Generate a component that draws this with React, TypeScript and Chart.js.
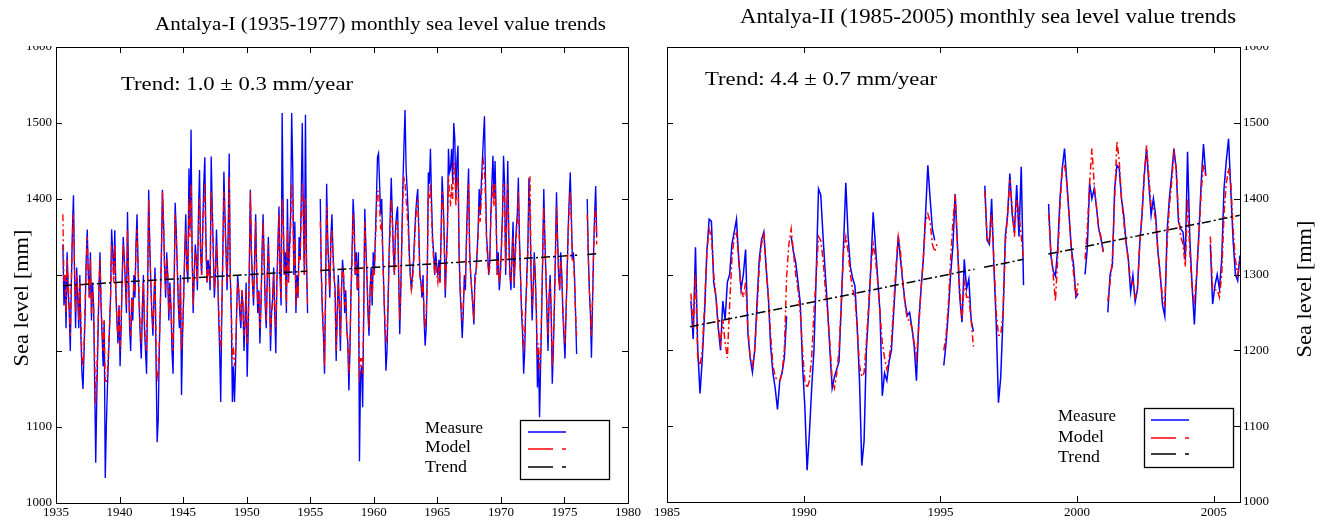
import React, { useEffect, useRef } from "react";
import { Chart, registerables } from "chart.js";

Chart.register(...registerables);

const _ = null;
const SERIF = '"Liberation Serif", "DejaVu Serif", "Times New Roman", serif';

// ---------------- Antalya-I (1935-1977): monthly values, first value = July 1935
const p1StartYear = 1935;
const p1StartMonth = 7;
const p1Measure: (number | null)[] = [
  1340, 1260, 1300, 1230, 1330, 1280,
  1250, 1200, 1290, 1360, 1405, 1300, 1230, 1310, 1270, 1230, 1300, 1220,
  1170, 1150, 1200, 1250, 1320, 1360, 1300, 1270, 1330, 1240, 1290, 1260,
  1160, 1053, 1140, 1210, 1280, 1330, 1260, 1220, 1180, 1240, 1033, 1100,
  1150, 1190, 1230, 1270, 1360, 1330, 1300, 1359, 1280, 1240, 1210, 1260,
  1180, 1230, 1300, 1350, 1320, 1290, 1250, 1383, 1300, 1230, 1200, 1270,
  1240, 1300, 1270, 1340, 1380, 1310, 1260, 1220, 1190, 1250, 1300, 1230,
  1200, 1170, 1280, 1412, 1340, 1290, 1250, 1220, 1270, 1310, 1180, 1080,
  1110, 1200, 1260, 1330, 1412, 1370, 1310, 1270, 1330, 1300, 1240, 1290,
  1260, 1200, 1170, 1280, 1395, 1360, 1310, 1260, 1230, 1300, 1142, 1220,
  1270, 1330, 1380, 1310, 1290, 1440, 1360, 1491, 1330, 1250, 1300, 1340,
  1320, 1280, 1380, 1438, 1330, 1300, 1360, 1420, 1455, 1350, 1290, 1320,
  1310, 1280, 1456, 1390, 1330, 1270, 1300, 1360, 1310, 1250, 1200, 1133,
  1250, 1330, 1436, 1380, 1330, 1280, 1350, 1460, 1300, 1250, 1133, 1180,
  1133, 1180, 1250, 1300, 1280, 1250, 1230, 1280, 1260, 1200, 1240, 1290,
  1166, 1230, 1310, 1412, 1330, 1290, 1260, 1320, 1380, 1300, 1250, 1280,
  1210, 1260, 1330, 1380, 1320, 1260, 1230, 1300, 1350, 1290, 1200, 1250,
  1270, 1310, 1250, 1197, 1290, 1340, 1390, 1300, 1260, 1513, 1380, 1300,
  1330, 1250, 1400, 1290, 1340, 1380, 1513, 1440, 1300, 1370, 1250, 1300,
  1270, 1350, 1320, 1400, 1500, 1380, 1300, 1511, 1320, 1250, _, _,
  _, _, _, _, _, _, _, _, _, 1400, 1300, 1250,
  1220, 1170, 1280, 1420, 1350, 1310, 1270, 1350, 1380, 1330, 1300, 1280,
  1187, 1250, 1300, 1260, 1200, 1280, 1320, 1300, 1250, 1280, 1230, 1210,
  1148, 1200, 1280, 1330, 1400, 1370, 1300, 1330, 1280, 1330, 1055, 1170,
  1180, 1126, 1250, 1387, 1340, 1300, 1250, 1220, 1280, 1310, 1260, 1330,
  1300, 1350, 1400, 1455, 1460, 1420, 1380, 1400, 1330, 1280, 1230, 1174,
  1200, 1260, 1330, 1380, 1428, 1380, 1330, 1300, 1360, 1380, 1390, 1300,
  1222, 1280, 1350, 1420, 1470, 1517, 1440, 1413, 1380, 1330, 1300, 1280,
  1300, 1320, 1350, 1380, 1400, 1413, 1360, 1300, 1290, 1270, 1300, 1240,
  1207, 1230, 1300, 1435, 1420, 1466, 1400, 1350, 1330, 1300, 1330, 1310,
  1300, 1320, 1290, 1350, 1430, 1400, 1350, 1270, 1320, 1360, 1466, 1435,
  1440, 1466, 1420, 1500, 1480, 1400, 1450, 1470, 1330, 1280, 1250, 1217,
  1250, 1300, 1280, 1350, 1400, 1440, 1330, 1300, 1280, 1260, 1235, 1300,
  1305, 1330, 1360, 1413, 1380, 1420, 1450, 1480, 1509, 1420, 1350, 1330,
  1300, 1320, 1380, 1420, 1457, 1400, 1450, 1380, 1300, 1330, 1280, 1300,
  1340, 1380, 1457, 1420, 1300, 1380, 1450, 1350, 1300, 1280, 1330, 1370,
  1283, 1330, 1360, 1380, 1428, 1350, 1300, 1250, 1222, 1170, 1200, 1260,
  1300, 1340, 1428, 1380, 1300, 1240, 1280, 1330, 1300, 1250, 1152, 1200,
  1113, 1180, 1250, 1330, 1413, 1350, 1300, 1250, 1200, 1270, 1300, 1250,
  1157, 1200, 1260, 1330, 1409, 1350, 1300, 1280, 1330, 1300, 1250, 1220,
  1190, 1250, 1300, 1360, 1400, 1435, 1380, 1320, 1330, 1300, 1250, 1196,
  _, _, _, _, _, _, _, _, _, 1400, 1330, 1280,
  1250, 1191, 1260, 1330, 1380, 1417, 1350,
];
const p1Model: (number | null)[] = [
  1380, 1290, 1300, 1250, 1320, 1290,
  1260, 1220, 1290, 1350, 1380, 1310, 1250, 1300, 1280, 1240, 1290, 1240,
  1190, 1180, 1210, 1260, 1310, 1350, 1300, 1270, 1320, 1250, 1280, 1260,
  1190, 1130, 1170, 1220, 1280, 1320, 1270, 1230, 1200, 1240, 1160, 1160,
  1170, 1200, 1230, 1270, 1340, 1320, 1290, 1340, 1280, 1240, 1220, 1260,
  1200, 1240, 1290, 1340, 1320, 1290, 1260, 1360, 1300, 1240, 1220, 1270,
  1250, 1290, 1280, 1330, 1360, 1310, 1270, 1230, 1210, 1260, 1290, 1240,
  1210, 1200, 1280, 1400, 1340, 1290, 1250, 1230, 1270, 1300, 1210, 1160,
  1170, 1210, 1260, 1320, 1410, 1370, 1310, 1280, 1320, 1300, 1250, 1280,
  1260, 1220, 1200, 1280, 1380, 1350, 1310, 1270, 1240, 1290, 1200, 1230,
  1270, 1320, 1360, 1310, 1300, 1400, 1350, 1420, 1330, 1260, 1300, 1330,
  1320, 1290, 1360, 1400, 1330, 1300, 1350, 1390, 1420, 1340, 1290, 1310,
  1300, 1290, 1410, 1380, 1330, 1280, 1300, 1340, 1310, 1260, 1220, 1200,
  1250, 1320, 1410, 1370, 1330, 1290, 1340, 1430, 1300, 1260, 1190, 1200,
  1180, 1200, 1250, 1290, 1280, 1260, 1240, 1280, 1260, 1220, 1240, 1280,
  1210, 1240, 1310, 1410, 1330, 1290, 1270, 1310, 1370, 1300, 1260, 1280,
  1230, 1260, 1320, 1370, 1320, 1270, 1240, 1300, 1340, 1290, 1220, 1250,
  1260, 1300, 1260, 1230, 1290, 1330, 1380, 1300, 1270, 1400, 1370, 1300,
  1310, 1260, 1360, 1290, 1330, 1360, 1420, 1400, 1310, 1350, 1260, 1290,
  1270, 1330, 1320, 1380, 1420, 1370, 1300, 1400, 1310, 1260, _, _,
  _, _, _, _, _, _, _, _, _, 1370, 1300, 1260,
  1230, 1180, 1270, 1390, 1340, 1310, 1280, 1340, 1360, 1320, 1300, 1270,
  1200, 1250, 1290, 1260, 1220, 1280, 1310, 1300, 1260, 1270, 1230, 1210,
  1170, 1210, 1270, 1320, 1380, 1350, 1300, 1320, 1280, 1310, 1160, 1190,
  1190, 1170, 1250, 1370, 1330, 1300, 1260, 1230, 1280, 1300, 1270, 1310,
  1300, 1340, 1380, 1410, 1410, 1390, 1360, 1370, 1320, 1280, 1240, 1210,
  1220, 1270, 1320, 1360, 1400, 1370, 1330, 1300, 1350, 1370, 1370, 1300,
  1240, 1280, 1340, 1400, 1430, 1420, 1400, 1380, 1360, 1320, 1300, 1280,
  1290, 1310, 1340, 1370, 1390, 1400, 1350, 1300, 1290, 1280, 1290, 1250,
  1230, 1250, 1300, 1410, 1400, 1420, 1380, 1340, 1320, 1300, 1320, 1300,
  1290, 1310, 1290, 1340, 1410, 1390, 1340, 1280, 1310, 1350, 1430, 1410,
  1390, 1420, 1400, 1450, 1440, 1390, 1420, 1430, 1330, 1290, 1260, 1240,
  1260, 1290, 1290, 1340, 1380, 1420, 1330, 1300, 1280, 1260, 1240, 1290,
  1300, 1320, 1350, 1390, 1370, 1400, 1430, 1450, 1440, 1400, 1340, 1320,
  1300, 1310, 1370, 1400, 1420, 1390, 1420, 1370, 1300, 1320, 1290, 1300,
  1330, 1370, 1420, 1400, 1310, 1370, 1420, 1340, 1300, 1290, 1320, 1350,
  1290, 1320, 1350, 1370, 1410, 1340, 1300, 1260, 1240, 1200, 1220, 1260,
  1290, 1330, 1400, 1430, 1310, 1260, 1280, 1320, 1290, 1250, 1190, 1210,
  1170, 1200, 1260, 1320, 1390, 1340, 1300, 1260, 1220, 1270, 1290, 1250,
  1180, 1210, 1260, 1320, 1390, 1340, 1300, 1280, 1320, 1300, 1260, 1230,
  1210, 1250, 1300, 1350, 1390, 1410, 1370, 1320, 1320, 1290, 1250, 1220,
  _, _, _, _, _, _, _, _, _, 1380, 1320, 1280,
  1260, 1220, 1270, 1330, 1370, 1390, 1340,
];
// trend line: [year, value] ends of each continuous piece (null = break)
const p1Trend: [number, number | null][] = [
  [1935.55, 1286], [1954.75, 1305], [1955.3, null],
  [1955.8, 1306], [1976.0, 1326], [1976.4, null],
  [1976.8, 1327], [1977.55, 1328],
];
const p1XTicks = [1935, 1940, 1945, 1950, 1955, 1960, 1965, 1970, 1975, 1980];
const p1XTickLabels = ["1935", "1940", "1945", "1950", "1955", "1960", "1965", "1970", "1975", "1980"];
const p1YTicks = [1000, 1100, 1200, 1300, 1400, 1500, 1600];
const p1YTickLabels = ["1000", "1100", "", "", "1400", "1500", "1600"];

// ---------------- Antalya-II (1985-2005): monthly values, first value = November 1985
const p2StartYear = 1985;
const p2StartMonth = 11;
const p2Measure: (number | null)[] = [
  1265, 1215,
  1336, 1200, 1143, 1190, 1250, 1330, 1373, 1370, 1290, 1270, 1230, 1200,
  1265, 1240, 1290, 1300, 1340, 1356, 1373, 1320, 1280, 1300, 1333, 1223,
  1190, 1171, 1200, 1262, 1320, 1346, 1356, 1310, 1270, 1205, 1170, 1150,
  1122, 1160, 1170, 1190, 1245, _, 1350, 1330, 1316, 1290, 1262, 1180,
  1126, 1042, 1090, 1150, 1200, 1300, 1413, 1405, 1350, 1300, 1255, 1200,
  1150, 1165, 1175, 1185, 1260, 1340, 1421, 1350, 1310, 1295, 1285, 1230,
  1160, 1048, 1080, 1200, 1250, 1311, 1382, 1338, 1294, 1250, 1140, 1170,
  1160, 1185, 1200, 1250, 1300, 1351, 1320, 1290, 1263, 1246, 1250, 1230,
  1206, 1160, 1237, 1280, 1320, 1380, 1444, 1400, 1360, 1345, _, _,
  _, 1180, 1210, 1250, 1300, 1338, 1406, 1338, 1270, 1237, 1320, 1281,
  1294, 1240, 1225, _, _, _, _, 1417, 1345, 1340, 1400, 1310,
  1237, 1131, 1165, 1245, 1350, 1378, 1433, 1380, 1356, 1418, 1350, 1442,
  1286, _, _, _, _, _, _, _, _, _, _, 1393,
  1325, 1305, 1298, 1334, 1400, 1440, 1466, 1422, 1378, 1334, 1312, 1270,
  1275, _, _, 1300, 1335, 1420, 1400, 1413, 1390, 1360, 1347, 1330,
  _, 1250, 1300, 1312, 1413, 1444, 1440, 1400, 1378, 1343, 1320, 1277,
  1299, 1264, 1280, 1340, 1378, 1431, 1466, 1420, 1378, 1400, 1378, 1330,
  1300, 1260, 1245, 1356, 1400, 1430, 1466, 1440, 1370, 1360, 1356, 1320,
  1462, 1347, 1285, 1234, 1300, 1356, 1422, 1472, 1430, _, 1340, 1261,
  1285, 1300, 1281, 1320, 1413, 1450, 1479, 1410, 1345, 1300, 1292, 1325,
];
const p2Model: (number | null)[] = [
  1275, 1230,
  1300, 1190, 1180, 1200, 1260, 1330, 1360, 1350, 1300, 1270, 1230, 1210,
  1240, 1210, 1190, 1260, 1320, 1350, 1355, 1320, 1280, 1270, 1290, 1230,
  1190, 1180, 1200, 1250, 1310, 1340, 1355, 1310, 1270, 1220, 1180, 1165,
  1160, 1160, 1170, 1200, 1297, 1340, 1360, 1330, 1300, 1280, 1250, 1200,
  1160, 1150, 1160, 1190, 1250, 1300, 1350, 1345, 1320, 1280, 1250, 1210,
  1160, 1150, 1170, 1200, 1260, 1330, 1350, 1330, 1300, 1280, 1270, 1230,
  1180, 1165, 1170, 1210, 1260, 1310, 1340, 1320, 1290, 1250, 1210, 1190,
  1175, 1190, 1210, 1260, 1310, 1350, 1330, 1290, 1260, 1240, 1240, 1230,
  1210, 1190, 1230, 1280, 1320, 1370, 1380, 1370, 1340, 1330, 1340, _,
  _, 1200, 1220, 1260, 1320, 1370, 1405, 1340, 1280, 1240, 1290, 1270,
  1270, 1240, 1205, _, _, _, _, 1410, 1350, 1340, 1380, 1320,
  1250, 1220, 1220, 1250, 1340, 1380, 1425, 1390, 1350, 1400, 1380, 1350,
  1320, _, _, _, _, _, _, _, _, _, _, 1380,
  1330, 1300, 1265, 1320, 1390, 1440, 1445, 1420, 1380, 1330, 1300, 1270,
  1290, _, _, 1320, 1360, 1420, 1466, 1420, 1390, 1360, 1350, 1330,
  _, 1265, 1290, 1320, 1400, 1475, 1450, 1400, 1370, 1340, 1320, 1290,
  1290, 1270, 1280, 1340, 1380, 1430, 1470, 1430, 1390, 1390, 1370, 1330,
  1300, 1270, 1260, 1340, 1390, 1420, 1460, 1440, 1380, 1350, 1340, 1310,
  1400, 1330, 1280, 1265, 1300, 1350, 1410, 1445, 1430, _, 1350, 1280,
  1280, 1280, 1270, 1300, 1380, 1420, 1440, 1420, 1360, 1320, 1300, 1320,
];
const p2Trend: [number, number | null][] = [
  [1985.84, 1231], [1996.25, 1307], [1996.4, null],
  [1996.6, 1309.5], [1998.04, 1320], [1998.5, null],
  [1998.95, 1327], [2000.0, 1334.5], [2000.15, null],
  [2000.3, 1337], [2005.95, 1378],
];
const p2XTicks = [1985, 1990, 1995, 2000, 2005];
const p2XTickLabels = ["1985", "1990", "1995", "2000", "2005"];
const p2YTicks = [1000, 1100, 1200, 1300, 1400, 1500, 1600];
const p2YTickLabels = ["1000", "1100", "1200", "1300", "1400", "1500", "1600"];

// ---------------- helpers
function monthly(vals: (number | null)[], y0: number, m0: number) {
  return vals.map((v, i) => ({ x: y0 + (m0 - 1 + i + 0.5) / 12, y: v }));
}
function pairs(p: [number, number | null][]) {
  return p.map(([x, y]) => ({ x, y }));
}

function fitText(ctx: CanvasRenderingContext2D, text: string, x: number, y: number, size: number, width: number) {
  ctx.save();
  ctx.font = `${size}px ${SERIF}`;
  ctx.textBaseline = "middle";
  ctx.textAlign = "left";
  const w = ctx.measureText(text).width;
  ctx.translate(x, y);
  ctx.scale(width / w, 1);
  ctx.fillText(text, 0, 0);
  ctx.restore();
}
function fitTextRot(ctx: CanvasRenderingContext2D, text: string, cx: number, cy: number, size: number, width: number) {
  ctx.save();
  ctx.font = `${size}px ${SERIF}`;
  ctx.textBaseline = "middle";
  ctx.textAlign = "center";
  const w = ctx.measureText(text).width;
  ctx.translate(cx, cy);
  ctx.rotate(-Math.PI / 2);
  ctx.scale(width / w, 1);
  ctx.fillText(text, 0, 0);
  ctx.restore();
}

type Deco = {
  off: number;
  xTicks: number[]; xLabels: string[];
  yTicks: number[]; yLabels: string[];
  side: "left" | "right";
  yLabelX: number;
  title: string; titleX: number; titleY: number; titleSize: number; titleW: number;
  trendText: string; trendX: number; trendY: number;
  legX: number; legY: number[];
  box: [number, number, number, number];
  lineX: number; lineY: number[];
  yTitleX: number; yTitleY: number;
};

function decoPlugin(d: Deco) {
  return {
    id: "deco",
    afterDraw(chart: any) {
      const ctx: CanvasRenderingContext2D = chart.ctx;
      const ca = chart.chartArea;
      const xs = chart.scales.x;
      const ys = chart.scales.y;
      const o = d.off;
      ctx.save();
      ctx.strokeStyle = "#000";
      ctx.fillStyle = "#000";
      ctx.lineWidth = 1;
      ctx.strokeRect(Math.round(ca.left) + 0.5, Math.round(ca.top) + 0.5, Math.round(ca.right - ca.left), Math.round(ca.bottom - ca.top));
      const T = 6;
      ctx.beginPath();
      d.yTicks.forEach((v) => {
        const py = Math.round(ys.getPixelForValue(v)) + 0.5;
        ctx.moveTo(ca.left, py); ctx.lineTo(ca.left + T, py);
        ctx.moveTo(ca.right, py); ctx.lineTo(ca.right - T, py);
      });
      d.xTicks.forEach((v) => {
        const px = Math.round(xs.getPixelForValue(v)) + 0.5;
        ctx.moveTo(px, ca.bottom); ctx.lineTo(px, ca.bottom - T);
        ctx.moveTo(px, ca.top); ctx.lineTo(px, ca.top + T);
      });
      ctx.stroke();

      ctx.textBaseline = "middle";
      d.xTicks.forEach((v, i) => {
        const px = xs.getPixelForValue(v);
        fitText(ctx, d.xLabels[i], px - 13, 513, 13, 26);
      });
      ctx.save();
      ctx.beginPath();
      ctx.rect(0, 46, chart.width, chart.height);
      ctx.clip();
      d.yTicks.forEach((v, i) => {
        if (!d.yLabels[i]) return;
        const py = ys.getPixelForValue(v);
        const lx = d.side === "left" ? d.yLabelX - o - 26 : d.yLabelX - o;
        fitText(ctx, d.yLabels[i], lx, py, 13, 26);
      });
      ctx.restore();

      fitText(ctx, d.title, d.titleX - o, d.titleY, d.titleSize, d.titleW);
      fitText(ctx, d.trendText, d.trendX - o, d.trendY, 18, 232);
      fitTextRot(ctx, "Sea level [mm]", d.yTitleX - o, d.yTitleY, 21, 137);

      fitText(ctx, "Measure", d.legX - o, d.legY[0], 16, 58);
      fitText(ctx, "Model", d.legX - o, d.legY[1], 16, 46);
      fitText(ctx, "Trend", d.legX - o, d.legY[2], 16, 42);
      const [bl, bt, br, bb] = d.box;
      ctx.lineWidth = 1.3;
      ctx.strokeStyle = "#000";
      ctx.strokeRect(bl - o + 0.5, bt + 0.5, br - bl, bb - bt);
      const lx = d.lineX - o;
      ctx.lineWidth = 1.6;
      ctx.strokeStyle = "#0000ff";
      ctx.beginPath(); ctx.moveTo(lx, d.lineY[0]); ctx.lineTo(lx + 38, d.lineY[0]); ctx.stroke();
      ctx.strokeStyle = "#ff0000";
      ctx.beginPath(); ctx.moveTo(lx, d.lineY[1]); ctx.lineTo(lx + 25, d.lineY[1]);
      ctx.moveTo(lx + 34, d.lineY[1]); ctx.lineTo(lx + 38, d.lineY[1]); ctx.stroke();
      ctx.strokeStyle = "#000";
      ctx.beginPath(); ctx.moveTo(lx, d.lineY[2]); ctx.lineTo(lx + 25, d.lineY[2]);
      ctx.moveTo(lx + 34, d.lineY[2]); ctx.lineTo(lx + 38, d.lineY[2]); ctx.stroke();
      ctx.restore();
    },
  };
}

function makeChart(
  canvas: HTMLCanvasElement,
  measure: { x: number; y: number | null }[],
  model: { x: number; y: number | null }[],
  trend: { x: number; y: number | null }[],
  xMin: number, xMax: number,
  padding: { left: number; right: number; top: number; bottom: number },
  lw: number,
  deco: Deco
) {
  return new Chart(canvas, {
    type: "line",
    data: {
      datasets: [
        { label: "Measure", data: measure as any, borderColor: "#0000ff", borderWidth: lw, pointRadius: 0, spanGaps: false, order: 3 },
        { label: "Model", data: model as any, borderColor: "#ff0000", borderWidth: lw, borderDash: [7, 3, 2, 3], pointRadius: 0, spanGaps: false, order: 2 },
        { label: "Trend", data: trend as any, borderColor: "#000000", borderWidth: 1.5, borderDash: [9, 3, 2, 3], pointRadius: 0, spanGaps: false, order: 1 },
      ],
    },
    options: {
      responsive: false,
      maintainAspectRatio: false,
      animation: false,
      layout: { padding },
      plugins: { legend: { display: false }, tooltip: { enabled: false }, title: { display: false } },
      elements: { line: { tension: 0 }, point: { radius: 0 } },
      scales: {
        x: { type: "linear", min: xMin, max: xMax, display: false },
        y: { type: "linear", min: 1000, max: 1600, display: false },
      },
    },
    plugins: [decoPlugin(deco)],
  } as any);
}

const SPLIT = 642;

export default function App() {
  const c1 = useRef<HTMLCanvasElement>(null);
  const c2 = useRef<HTMLCanvasElement>(null);

  useEffect(() => {
    const a = makeChart(
      c1.current!,
      monthly(p1Measure, p1StartYear, p1StartMonth),
      monthly(p1Model, p1StartYear, p1StartMonth),
      pairs(p1Trend),
      1935, 1980,
      { left: 56, right: SPLIT - 628, top: 47, bottom: 20 },
      1.35,
      {
        off: 0,
        xTicks: p1XTicks, xLabels: p1XTickLabels,
        yTicks: p1YTicks, yLabels: p1YTickLabels,
        side: "left", yLabelX: 52,
        title: "Antalya-I (1935-1977) monthly sea level value trends",
        titleX: 155, titleY: 25, titleSize: 19, titleW: 451,
        trendText: "Trend: 1.0 \u00b1 0.3 mm/year", trendX: 121, trendY: 85,
        legX: 425, legY: [429, 448, 468],
        box: [520, 420, 609, 479],
        lineX: 528, lineY: [432, 449, 467],
        yTitleX: 22, yTitleY: 298,
      }
    );
    const b = makeChart(
      c2.current!,
      monthly(p2Measure, p2StartYear, p2StartMonth),
      monthly(p2Model, p2StartYear, p2StartMonth),
      pairs(p2Trend),
      1985, 2005.96,
      { left: 667 - SPLIT, right: 1324 - 1240, top: 47, bottom: 21 },
      1.5,
      {
        off: SPLIT,
        xTicks: p2XTicks, xLabels: p2XTickLabels,
        yTicks: p2YTicks, yLabels: p2YTickLabels,
        side: "right", yLabelX: 1243,
        title: "Antalya-II (1985-2005) monthly sea level value trends",
        titleX: 740, titleY: 18, titleSize: 20, titleW: 496,
        trendText: "Trend: 4.4 \u00b1 0.7 mm/year", trendX: 705, trendY: 80,
        legX: 1058, legY: [417, 438, 458],
        box: [1144, 408, 1233, 467],
        lineX: 1151, lineY: [420, 438, 454],
        yTitleX: 1305, yTitleY: 289,
      }
    );
    return () => {
      a.destroy();
      b.destroy();
    };
  }, []);

  return (
    <div style={{ position: "absolute", left: 0, top: 0, width: 1324, height: 523, background: "#fff", overflow: "hidden" }}>
      <canvas ref={c1} width={SPLIT} height={523} style={{ position: "absolute", left: 0, top: 0, width: SPLIT, height: 523 }} />
      <canvas ref={c2} width={1324 - SPLIT} height={523} style={{ position: "absolute", left: SPLIT, top: 0, width: 1324 - SPLIT, height: 523 }} />
    </div>
  );
}
